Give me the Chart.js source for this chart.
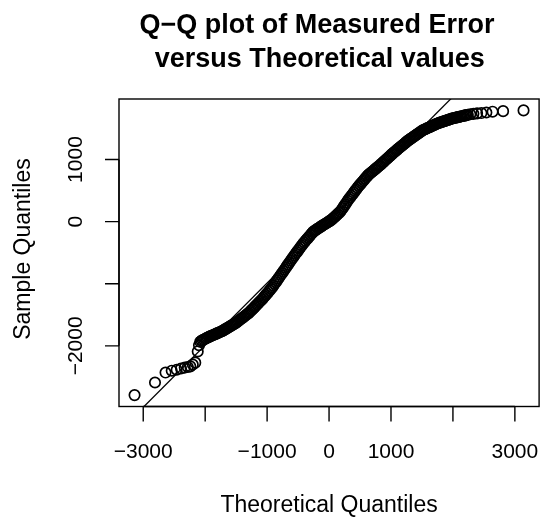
<!DOCTYPE html>
<html>
<head>
<meta charset="utf-8">
<script src="https://cdn.jsdelivr.net/npm/chart.js@4.4.1/dist/chart.umd.min.js"></script>
<style>
html,body{margin:0;padding:0;background:#fff;}
#wrap{width:546px;height:518px;position:relative;}
</style>
</head>
<body>
<div id="wrap"><canvas id="c" width="546" height="518"></canvas></div>
<script>
// ---- data ----
const theoreticalQuantiles = [
-3140,-2810,-2640,-2540,-2460,-2390,-2330,-2280,-2240,-2200,-2160,-2120,-2100,
-2080,-2060,-2040,-2020,-2000,-1980,-1960,-1940,-1920,-1900,
-1880,-1860,-1840,-1820,-1800,-1780,-1760,-1740,-1720,-1700,
-1680,-1660,-1640,-1620,-1600,-1580,-1560,-1540,-1520,-1500,
-1480,-1460,-1440,-1420,-1400,-1380,-1360,-1340,-1320,-1300,
-1280,-1260,-1240,-1220,-1200,-1180,-1160,-1140,-1120,-1100,
-1080,-1060,-1040,-1020,-1000,-980,-960,-940,-920,-900,
-880,-860,-840,-820,-800,-780,-760,-740,-720,-700,
-680,-660,-640,-620,-600,-580,-560,-540,-520,-500,
-480,-460,-440,-420,-400,-380,-360,-340,-320,-300,
-280,-260,-240,-220,-200,-180,-160,-140,-120,-100,
-80,-60,-40,-20,0,20,40,60,80,100,
120,140,160,180,200,220,240,260,280,300,
320,340,360,380,400,420,440,460,480,500,
520,540,560,580,600,620,640,660,680,700,
720,740,760,780,800,820,840,860,880,900,
920,940,960,980,1000,1020,1040,1060,1080,1100,
1120,1140,1160,1180,1200,1220,1240,1260,1280,1300,
1320,1340,1360,1380,1400,1420,1440,1460,1480,1500,
1520,1540,1560,1580,1600,1620,1640,1660,1680,1700,
1720,1740,1760,1780,1800,1820,1840,1860,1880,1900,
1920,1940,1960,1980,2000,2020,2040,2060,2080,2100,
2120,2140,2160,2180,2200,2220,2240,
2280,2330,2390,2460,2540,2640,2810,3140
];
const sampleQuantiles = [
-2793,-2590,-2430,-2400,-2385,-2365,-2350,-2340,-2330,-2300,-2270,-2090,-1990,
-1935,-1918,-1907,-1897,-1887,-1876,-1866,-1856,-1847,-1838,
-1829,-1821,-1812,-1803,-1795,-1786,-1777,-1769,-1759,-1747,
-1735,-1723,-1711,-1699,-1687,-1675,-1664,-1652,-1640,-1627,
-1612,-1596,-1581,-1565,-1550,-1535,-1519,-1504,-1488,-1473,
-1454,-1433,-1413,-1393,-1372,-1352,-1331,-1311,-1291,-1270,
-1249,-1226,-1202,-1179,-1156,-1132,-1109,-1085,-1061,-1032,
-1003,-975,-946,-917,-889,-860,-831,-802,-774,-745,
-716,-688,-659,-630,-601,-572,-545,-518,-491,-464,
-437,-410,-384,-357,-332,-309,-285,-262,-239,-216,
-192,-169,-152,-139,-125,-112,-99,-85,-72,-59,
-46,-34,-21,-9,4,16,30,48,67,85,
104,122,141,159,188,217,247,276,305,335,
363,389,416,442,468,495,521,548,573,596,
620,643,667,690,714,737,757,774,791,807,
824,841,857,874,891,907,926,944,962,981,
999,1017,1036,1054,1073,1091,1109,1125,1142,1159,
1176,1192,1209,1226,1243,1259,1276,1293,1308,1322,
1336,1350,1364,1378,1392,1406,1420,1434,1448,1462,
1474,1483,1492,1502,1511,1520,1530,1539,1548,1558,
1567,1576,1585,1591,1598,1605,1611,1618,1625,1631,
1638,1644,1651,1658,1664,1668,1673,1678,1682,1687,
1692,1696,1701,1706,1710,1715,1720,
1728,1735,1743,1748,1757,1770,1779,1791
];
// reference line (qqline) end points
const qqLineX = [-3600, 3600];
const qqLineY = [-3589, 3611];

const xTickValues = [-3000,-2000,-1000,0,1000,2000,3000];
const xTickLabels = ['\u22123000','','\u22121000','0','1000','','3000'];
const yTickValues = [-2000,-1000,0,1000];
const yTickLabels = ['\u22122000','','0','1000'];

const titleLines = ['Q\u2212Q plot of Measured Error', ' versus Theoretical values'];
const xAxisTitle = 'Theoretical Quantiles';
const yAxisTitle = 'Sample Quantiles';

// ---- build ----
const n = Math.min(theoreticalQuantiles.length, sampleQuantiles.length);
const points = [];
for (let i = 0; i < n; i++) points.push({x: theoreticalQuantiles[i], y: sampleQuantiles[i]});
const linePts = qqLineX.map((x, i) => ({x: x, y: qqLineY[i]}));

function extend(arr){
  const lo = Math.min(...arr), hi = Math.max(...arr), r = hi - lo;
  return [lo - 0.04*r, hi + 0.04*r];
}
const [xMin, xMax] = extend(theoreticalQuantiles.slice(0, n));
const [yMin, yMax] = extend(sampleQuantiles.slice(0, n));

const FONT = '"Liberation Sans", Arial, Helvetica, sans-serif';

const rFrame = {
  id: 'rFrame',
  afterDraw(chart){
    const ctx = chart.ctx;
    const ca = chart.chartArea;
    const xs = chart.scales.x, ys = chart.scales.y;
    ctx.save();
    ctx.strokeStyle = '#000';
    ctx.fillStyle = '#000';
    ctx.lineWidth = 1.4;
    ctx.strokeRect(ca.left, ca.top, ca.right - ca.left, ca.bottom - ca.top);

    // x axis
    ctx.beginPath();
    ctx.moveTo(xs.getPixelForValue(xTickValues[0]), ca.bottom);
    ctx.lineTo(xs.getPixelForValue(xTickValues[xTickValues.length-1]), ca.bottom);
    xTickValues.forEach(v => {
      const px = xs.getPixelForValue(v);
      ctx.moveTo(px, ca.bottom);
      ctx.lineTo(px, ca.bottom + 15);
    });
    ctx.stroke();
    ctx.font = '21px ' + FONT;
    ctx.textAlign = 'center';
    ctx.textBaseline = 'alphabetic';
    xTickLabels.forEach((t, i) => {
      if (t) ctx.fillText(t, xs.getPixelForValue(xTickValues[i]), 458);
    });

    // y axis
    ctx.beginPath();
    ctx.moveTo(ca.left, ys.getPixelForValue(yTickValues[0]));
    ctx.lineTo(ca.left, ys.getPixelForValue(yTickValues[yTickValues.length-1]));
    yTickValues.forEach(v => {
      const py = ys.getPixelForValue(v);
      ctx.moveTo(ca.left, py);
      ctx.lineTo(ca.left - 14, py);
    });
    ctx.stroke();
    yTickLabels.forEach((t, i) => {
      if (!t) return;
      ctx.save();
      ctx.translate(82, ys.getPixelForValue(yTickValues[i]));
      ctx.rotate(-Math.PI/2);
      ctx.fillText(t, 0, 0);
      ctx.restore();
    });

    // axis titles
    ctx.font = '23px ' + FONT;
    ctx.fillText(xAxisTitle, (ca.left + ca.right)/2, 512);
    ctx.save();
    ctx.translate(30, 249);
    ctx.rotate(-Math.PI/2);
    ctx.fillText(yAxisTitle, 0, 0);
    ctx.restore();

    // main title
    ctx.font = 'bold 27px ' + FONT;
    ctx.fillText(titleLines[0], 317, 33);
    ctx.fillText(titleLines[1], 316, 67);
    ctx.restore();
  }
};

new Chart(document.getElementById('c'), {
  type: 'scatter',
  data: {
    datasets: [
      {
        type: 'line',
        data: linePts,
        borderColor: '#000',
        borderWidth: 1.3,
        pointRadius: 0,
        fill: false,
        tension: 0
      },
      {
        type: 'scatter',
        data: points,
        pointStyle: 'circle',
        pointRadius: 5.2,
        pointHoverRadius: 5.2,
        pointBorderWidth: 1.7,
        borderWidth: 1.7,
        pointBorderColor: '#000',
        borderColor: '#000',
        pointBackgroundColor: 'rgba(0,0,0,0)',
        backgroundColor: 'rgba(0,0,0,0)'
      }
    ]
  },
  options: {
    responsive: false,
    devicePixelRatio: 1,
    animation: false,
    events: [],
    layout: { padding: { left: 119, top: 99, right: 4.5, bottom: 111.5 } },
    plugins: { legend: { display: false }, tooltip: { enabled: false }, title: { display: false } },
    scales: {
      x: { type: 'linear', min: xMin, max: xMax, display: false },
      y: { type: 'linear', min: yMin, max: yMax, display: false }
    }
  },
  plugins: [rFrame]
});
</script>
</body>
</html>
